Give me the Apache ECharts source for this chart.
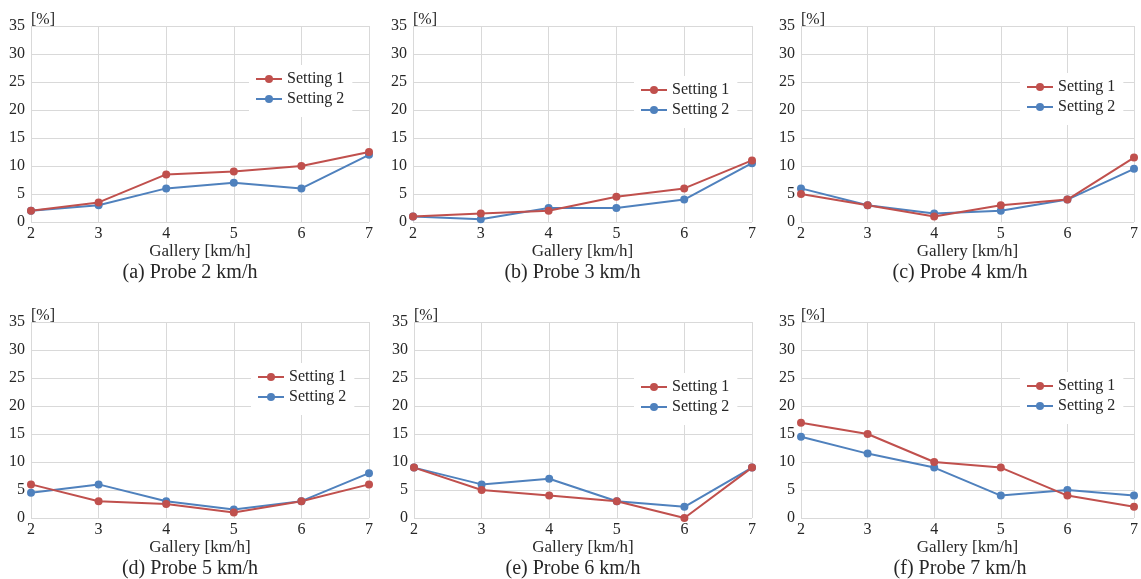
<!DOCTYPE html>
<html>
<head>
<meta charset="utf-8">
<script src="https://cdn.jsdelivr.net/npm/echarts@6/dist/echarts.min.js"></script>
<style>
html,body{margin:0;padding:0;background:#fff;}
#chart{width:1141px;height:579px;}
</style>
</head>
<body>
<div id="chart"></div>
<script>
// Gallery speeds (x values)
const gallery = [2, 3, 4, 5, 6, 7];
// Panel captions
const captions = ['(a) Probe 2 km/h', '(b) Probe 3 km/h', '(c) Probe 4 km/h',
                  '(d) Probe 5 km/h', '(e) Probe 6 km/h', '(f) Probe 7 km/h'];
const seriesNames = ['Setting 1', 'Setting 2'];
const yTicks = [0, 5, 10, 15, 20, 25, 30, 35];
// Setting 1 values per panel
const s1a = [2, 3.5, 8.5, 9, 10, 12.5];
const s1b = [1, 1.5, 2, 4.5, 6, 11];
const s1c = [5, 3, 1, 3, 4, 11.5];
const s1d = [6, 3, 2.5, 1, 3, 6];
const s1e = [9, 5, 4, 3, 0, 9];
const s1f = [17, 15, 10, 9, 4, 2];
// Setting 2 values per panel
const s2a = [2, 3, 6, 7, 6, 12];
const s2b = [1, 0.5, 2.5, 2.5, 4, 10.5];
const s2c = [6, 3, 1.5, 2, 4, 9.5];
const s2d = [4.5, 6, 3, 1.5, 3, 8];
const s2e = [9, 6, 7, 3, 2, 9];
const s2f = [14.5, 11.5, 9, 4, 5, 4];

const setting1 = [s1a, s1b, s1c, s1d, s1e, s1f];
const setting2 = [s2a, s2b, s2c, s2d, s2e, s2f];

const RED = '#c0504d', BLUE = '#4f81bd';
const FONT = '"Liberation Serif", "Times New Roman", serif';
const TXT = '#262626';

// layout
const grids = [
  {left: 31, width: 338, top: 26, height: 196},
  {left: 413, width: 339, top: 26, height: 196},
  {left: 801, width: 338, top: 26, height: 196},
  {left: 31, width: 338, top: 322, height: 196},
  {left: 414, width: 338, top: 322, height: 196},
  {left: 801, width: 338, top: 322, height: 196}
];
const legendPos = [
  {left: 249, top: 65}, {left: 634, top: 76}, {left: 1020, top: 73},
  {left: 251, top: 363}, {left: 634, top: 373}, {left: 1020, top: 372}
];

const option = {
  backgroundColor: '#fff',
  animation: false,
  textStyle: {fontFamily: FONT},
  grid: grids.map(g => ({left: g.left, top: g.top, width: g.width, height: g.height, containLabel: false})),
  title: captions.map((c, i) => ({
    text: c,
    left: grids[i].left + grids[i].width / 2 - 10,
    top: grids[i].top + grids[i].height + 41,
    textAlign: 'center',
    textStyle: {fontFamily: FONT, fontSize: 20, fontWeight: 'normal', color: TXT},
    padding: 0
  })),
  legend: legendPos.map((p, i) => ({
    data: seriesNames,
    orient: 'vertical',
    left: p.left,
    top: p.top,
    itemWidth: 26,
    itemHeight: 10,
    itemGap: 4,
    padding: [6, 8, 10, 6],
    backgroundColor: '#fff',
    textStyle: {fontFamily: FONT, fontSize: 16, color: TXT},
    selectedMode: false
  })),
  xAxis: grids.map((g, i) => ({
    type: 'value',
    gridIndex: i,
    min: 2, max: 7, interval: 1,
    name: 'Gallery [km/h]',
    nameLocation: 'middle',
    nameGap: 21,
    nameTextStyle: {fontFamily: FONT, fontSize: 17, color: TXT},
    axisLine: {show: false},
    axisTick: {show: false},
    axisLabel: {fontFamily: FONT, fontSize: 16, color: TXT, margin: 4},
    splitLine: {show: true, lineStyle: {color: '#d9d9d9', width: 1}}
  })),
  yAxis: grids.map((g, i) => ({
    type: 'value',
    gridIndex: i,
    min: yTicks[0], max: yTicks[yTicks.length - 1], interval: 5,
    name: '[%]',
    nameLocation: 'end',
    nameGap: -2,
    nameTextStyle: {fontFamily: FONT, fontSize: 16, color: TXT, align: 'left'},
    axisLine: {show: false},
    axisTick: {show: false},
    axisLabel: {fontFamily: FONT, fontSize: 16, color: TXT, margin: 6},
    splitLine: {show: true, lineStyle: {color: '#d9d9d9', width: 1}}
  })),
  series: []
};

for (let i = 0; i < 6; i++) {
  option.series.push({
    name: seriesNames[1], type: 'line', xAxisIndex: i, yAxisIndex: i,
    data: gallery.map((x, k) => [x, setting2[i][k]]),
    symbol: 'circle', symbolSize: 8, clip: false,
    itemStyle: {color: BLUE}, lineStyle: {color: BLUE, width: 2}
  });
  option.series.push({
    name: seriesNames[0], type: 'line', xAxisIndex: i, yAxisIndex: i,
    data: gallery.map((x, k) => [x, setting1[i][k]]),
    symbol: 'circle', symbolSize: 8, clip: false,
    itemStyle: {color: RED}, lineStyle: {color: RED, width: 2}
  });
}

const chart = echarts.init(document.getElementById('chart'), null, {renderer: 'canvas'});
chart.setOption(option);
</script>
</body>
</html>
